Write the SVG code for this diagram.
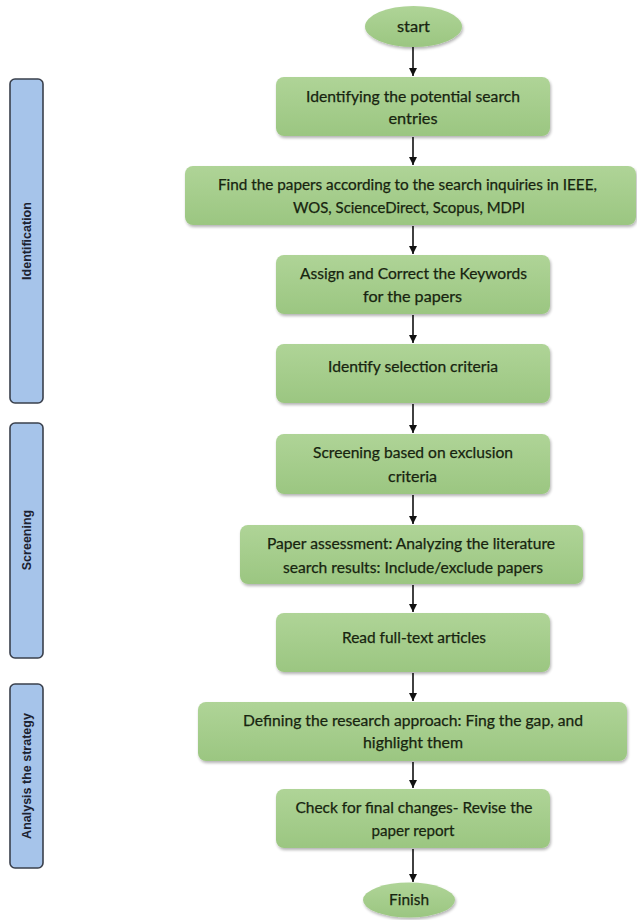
<svg xmlns="http://www.w3.org/2000/svg" width="637" height="920" viewBox="0 0 637 920">
  <defs>
    <linearGradient id="green" x1="0" y1="0" x2="0" y2="1">
      <stop offset="0" stop-color="#afd497"/>
      <stop offset="1" stop-color="#9bc681"/>
    </linearGradient>
    <filter id="shadow" x="-10%" y="-20%" width="120%" height="150%">
      <feGaussianBlur in="SourceAlpha" stdDeviation="1.6"/>
      <feOffset dx="0.5" dy="2" result="b"/>
      <feComponentTransfer><feFuncA type="linear" slope="0.3"/></feComponentTransfer>
      <feMerge><feMergeNode/><feMergeNode in="SourceGraphic"/></feMerge>
    </filter>
    <marker id="arrow" viewBox="0 0 10 10" refX="10" refY="5" markerWidth="8" markerHeight="8" markerUnits="userSpaceOnUse" orient="auto">
      <path d="M0,0 L10,5 L0,10 z" fill="#111"/>
    </marker>
  </defs>
  <style>
    .step { fill: url(#green); filter: url(#shadow); }
    .label { font-family: Lato, "Open Sans", "Liberation Sans", sans-serif; font-size: 15.5px; fill: #17240f; stroke: #17240f; stroke-width: 0.25; text-anchor: middle; }
    .phase { fill: #a6c4ea; stroke: #3a404c; stroke-width: 1.6; }
    .phase-label { font-family: "Liberation Sans", Arial, sans-serif; font-weight: bold; font-size: 12.5px; fill: #1c2230; text-anchor: middle; }
    .link { stroke: #111; stroke-width: 1.6; fill: none; marker-end: url(#arrow); }
  </style>
  <rect width="637" height="920" fill="#ffffff"/>

  <!-- phase bars -->
  <g id="phase-identification">
    <rect class="phase" x="10" y="79" width="33" height="324" rx="5"/>
    <text class="phase-label" transform="translate(31,241) rotate(-90)">Identification</text>
  </g>
  <g id="phase-screening">
    <rect class="phase" x="10" y="423" width="33" height="235" rx="5"/>
    <text class="phase-label" transform="translate(31,540) rotate(-90)">Screening</text>
  </g>
  <g id="phase-analysis">
    <rect class="phase" x="10" y="684" width="33" height="184" rx="5"/>
    <text class="phase-label" transform="translate(31,776) rotate(-90)">Analysis the strategy</text>
  </g>

  <!-- connectors -->
  <g id="connectors">
    <line class="link" x1="413" y1="47" x2="413" y2="76"/>
    <line class="link" x1="413" y1="137" x2="413" y2="165"/>
    <line class="link" x1="413" y1="226" x2="413" y2="254"/>
    <line class="link" x1="413" y1="315" x2="413" y2="343"/>
    <line class="link" x1="413" y1="404" x2="413" y2="433"/>
    <line class="link" x1="413" y1="495" x2="413" y2="524"/>
    <line class="link" x1="413" y1="585" x2="413" y2="612"/>
    <line class="link" x1="413" y1="673" x2="413" y2="701"/>
    <line class="link" x1="413" y1="762" x2="413" y2="788"/>
    <line class="link" x1="413" y1="849" x2="413" y2="882"/>
  </g>

  <!-- flow nodes -->
  <g id="start">
    <ellipse class="step" cx="413.5" cy="26.5" rx="48.5" ry="20.5"/>
    <text class="label" x="413.5" y="32" textLength="33" lengthAdjust="spacingAndGlyphs">start</text>
  </g>
  <g id="step-search-entries">
    <rect class="step" x="276" y="77" width="274" height="59" rx="8"/>
    <text class="label" x="413" y="101.5" textLength="214" lengthAdjust="spacingAndGlyphs">Identifying the potential search</text>
    <text class="label" x="413" y="123.5" textLength="49" lengthAdjust="spacingAndGlyphs">entries</text>
  </g>
  <g id="step-find-papers">
    <rect class="step" x="185" y="166" width="451" height="59" rx="8"/>
    <text class="label" x="407.5" y="190" textLength="379" lengthAdjust="spacingAndGlyphs">Find the papers according to the search inquiries in IEEE,</text>
    <text class="label" x="409" y="213" textLength="232" lengthAdjust="spacingAndGlyphs">WOS, ScienceDirect, Scopus, MDPI</text>
  </g>
  <g id="step-keywords">
    <rect class="step" x="276" y="255" width="274" height="59" rx="8"/>
    <text class="label" x="413.5" y="278.5" textLength="227" lengthAdjust="spacingAndGlyphs">Assign and Correct the Keywords</text>
    <text class="label" x="412.5" y="302" textLength="99" lengthAdjust="spacingAndGlyphs">for the papers</text>
  </g>
  <g id="step-selection-criteria">
    <rect class="step" x="276" y="344" width="274" height="59" rx="8"/>
    <text class="label" x="413" y="372" textLength="170" lengthAdjust="spacingAndGlyphs">Identify selection criteria</text>
  </g>
  <g id="step-exclusion">
    <rect class="step" x="276" y="434" width="274" height="60" rx="8"/>
    <text class="label" x="413" y="458" textLength="200" lengthAdjust="spacingAndGlyphs">Screening based on exclusion</text>
    <text class="label" x="412.5" y="482" textLength="49" lengthAdjust="spacingAndGlyphs">criteria</text>
  </g>
  <g id="step-assessment">
    <rect class="step" x="240" y="525" width="343" height="59" rx="8"/>
    <text class="label" x="411" y="548.5" textLength="288" lengthAdjust="spacingAndGlyphs">Paper assessment: Analyzing the literature</text>
    <text class="label" x="413" y="572.5" textLength="260" lengthAdjust="spacingAndGlyphs">search results: Include/exclude papers</text>
  </g>
  <g id="step-full-text">
    <rect class="step" x="276" y="613" width="274" height="59" rx="8"/>
    <text class="label" x="414" y="643" textLength="144" lengthAdjust="spacingAndGlyphs">Read full-text articles</text>
  </g>
  <g id="step-approach">
    <rect class="step" x="198" y="702" width="429" height="59" rx="8"/>
    <text class="label" x="413" y="725.5" textLength="340" lengthAdjust="spacingAndGlyphs">Defining the research approach: Fing the gap, and</text>
    <text class="label" x="413" y="748" textLength="100" lengthAdjust="spacingAndGlyphs">highlight them</text>
  </g>
  <g id="step-final-changes">
    <rect class="step" x="276" y="789" width="274" height="59" rx="8"/>
    <text class="label" x="414" y="812.5" textLength="237" lengthAdjust="spacingAndGlyphs">Check for final changes- Revise the</text>
    <text class="label" x="413" y="836" textLength="83" lengthAdjust="spacingAndGlyphs">paper report</text>
  </g>
  <g id="finish">
    <ellipse class="step" cx="409" cy="900" rx="46" ry="17.5"/>
    <text class="label" x="409" y="905" textLength="40" lengthAdjust="spacingAndGlyphs">Finish</text>
  </g>
</svg>
